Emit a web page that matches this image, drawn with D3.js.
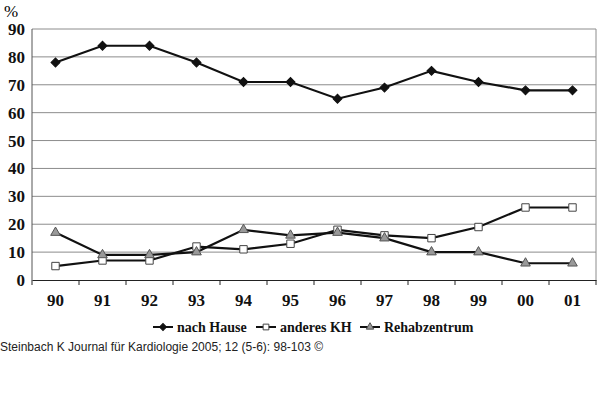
<!DOCTYPE html>
<html lang="de">
<head>
<meta charset="UTF-8">
<title>Chart</title>
<script src="https://d3js.org/d3.v7.min.js"></script>
<style>
  body { margin: 0; background: #fff; }
  .tick-label { font-family: "Liberation Serif", "Times New Roman", serif; font-weight: bold; font-size: 17px; fill: #111; }
  .legend-label { font-family: "Liberation Serif", "Times New Roman", serif; font-weight: bold; font-size: 14px; fill: #111; }
</style>
</head>
<body>
<svg width="600" height="397"></svg>
<script>
  var years = ["90", "91", "92", "93", "94", "95", "96", "97", "98", "99", "00", "01"];
  var nachHause = [78, 84, 84, 78, 71, 71, 65, 69, 75, 71, 68, 68];
  var anderesKH = [5, 7, 7, 12, 11, 13, 18, 16, 15, 19, 26, 26];
  var rehab = [17, 9, 9, 10, 18, 16, 17, 15, 10, 10, 6, 6];
  var yTicks = [0, 10, 20, 30, 40, 50, 60, 70, 80, 90];

  var svg = d3.select("svg");
  var plotL = 32, plotR = 596, plotT = 29, plotB = 280;

  var x = d3.scaleBand().domain(years).range([plotL, plotR]);
  var y = d3.scaleLinear().domain([0, 90]).range([plotB, plotT]);

  // grid
  svg.append("g")
    .selectAll("line")
    .data(yTicks.filter(d => d > 0))
    .join("line")
    .attr("x1", plotL).attr("x2", plotR)
    .attr("y1", d => y(d)).attr("y2", d => y(d))
    .style("stroke", "#8c8c8c");

  // right border
  svg.append("line")
    .attr("x1", plotR).attr("x2", plotR)
    .attr("y1", plotT).attr("y2", plotB)
    .style("stroke", "#8c8c8c");

  // y axis
  svg.append("line")
    .attr("x1", plotL).attr("x2", plotL)
    .attr("y1", plotT).attr("y2", plotB)
    .style("stroke", "#555");

  svg.append("g")
    .selectAll("text")
    .data(yTicks)
    .join("text")
    .classed("tick-label", true)
    .attr("x", 25)
    .attr("y", d => y(d) + 6)
    .attr("text-anchor", "end")
    .text(d => d);

  svg.append("text")
    .attr("x", 4).attr("y", 17)
    .style("font-family", "Liberation Serif, serif")
    .style("font-size", "17px")
    .text("%");

  // x axis
  var xAxis = svg.append("g")
    .attr("transform", "translate(0," + plotB + ")")
    .call(d3.axisBottom(x).tickSize(0).tickFormat(""));
  xAxis.select(".domain").style("stroke", "#222");

  svg.append("g")
    .selectAll("line")
    .data(years.map(d => x(d)).concat([plotR]))
    .join("line")
    .attr("x1", d => d).attr("x2", d => d)
    .attr("y1", plotB).attr("y2", plotB + 5)
    .style("stroke", "#222");

  svg.append("g")
    .selectAll("text")
    .data(years)
    .join("text")
    .classed("tick-label", true)
    .attr("x", d => x(d) + x.bandwidth() / 2)
    .attr("y", 306)
    .attr("text-anchor", "middle")
    .text(d => d);

  var cx = d => x(d) + x.bandwidth() / 2;
  var line = d3.line().x(d => cx(d[0])).y(d => y(d[1]));

  // diamond = square turned 45deg
  var series = [
    { name: "nach Hause", values: nachHause, sym: d3.symbolSquare, rot: 45, size: 40, fill: "#111", stroke: "#111" },
    { name: "anderes KH", values: anderesKH, sym: d3.symbolSquare, rot: 0, size: 55, fill: "#fff", stroke: "#444" },
    { name: "Rehabzentrum", values: rehab, sym: d3.symbolTriangle, rot: 0, size: 40, fill: "#999", stroke: "#555" }
  ];

  series.forEach(function(s) {
    var pts = years.map((yr, i) => [yr, s.values[i]]);
    svg.append("path")
      .attr("d", line(pts))
      .style("fill", "none")
      .style("stroke", "#111")
      .style("stroke-width", 2.2);
  });

  series.forEach(function(s) {
    var pts = years.map((yr, i) => [yr, s.values[i]]);
    svg.append("g")
      .selectAll("path")
      .data(pts)
      .join("path")
      .attr("transform", d => "translate(" + cx(d[0]) + "," + y(d[1]) + ") rotate(" + s.rot + ")")
      .attr("d", d3.symbol().type(s.sym).size(s.size))
      .style("fill", s.fill)
      .style("stroke", s.stroke)
      .style("stroke-width", 1);
  });

  // legend
  var legendX = [153, 256, 360];
  var legend = svg.append("g");
  series.forEach(function(s, i) {
    var g = legend.append("g").attr("transform", "translate(" + legendX[i] + ",327)");
    g.append("line").attr("x1", 0).attr("x2", 20).attr("y1", 0).attr("y2", 0)
      .style("stroke", "#111").style("stroke-width", 2);
    g.append("path").attr("transform", "translate(10,0) rotate(" + s.rot + ")")
      .attr("d", d3.symbol().type(s.sym).size(s.size * 0.6))
      .style("fill", s.fill).style("stroke", s.stroke);
    g.append("text").classed("legend-label", true)
      .attr("x", 24).attr("y", 5)
      .text(s.name);
  });

  svg.append("text")
    .attr("x", 0).attr("y", 351)
    .style("font-family", "Liberation Sans, Arial, sans-serif")
    .style("font-size", "12px")
    .style("fill", "#222")
    .text("Steinbach K Journal für Kardiologie 2005; 12 (5-6): 98-103 ©");
</script>
</body>
</html>
